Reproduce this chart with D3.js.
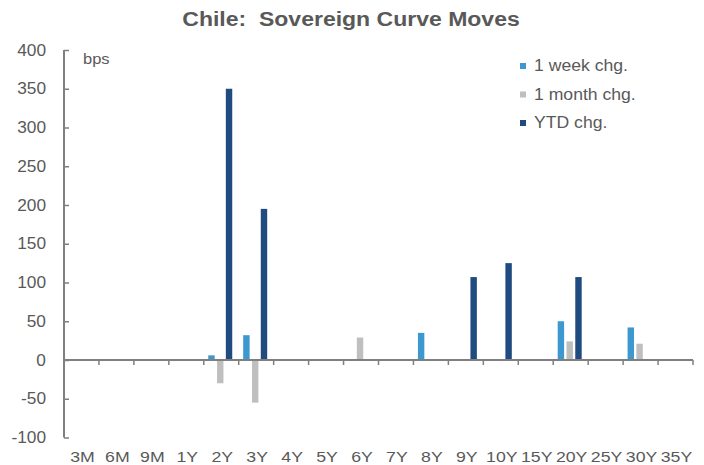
<!DOCTYPE html>
<html>
<head>
<meta charset="utf-8">
<script src="https://cdn.jsdelivr.net/npm/d3@7"></script>
<style>
  html, body { margin: 0; padding: 0; background: #fff; }
  svg { display: block; font-family: "Liberation Sans", Arial, sans-serif; }
</style>
</head>
<body>
<svg id="chart" width="704" height="465"></svg>
<script>
// Tenors along the curve
const categories = ["3M","6M","9M","1Y","2Y","3Y","4Y","5Y","6Y","7Y","8Y","9Y","10Y","15Y","20Y","25Y","30Y","35Y"];
// Changes in basis points (null = no change shown)
const weekChg  = [null,null,null,null,6,32,null,null,null,null,35,null,null,null,50,null,42,null];
const monthChg = [null,null,null,null,-30,-55,null,null,29,null,null,null,null,null,24,null,21,null];
const ytdChg   = [null,null,null,null,350,195,null,null,null,null,null,107,125,null,107,null,null,null];
const yTicks = [-100,-50,0,50,100,150,200,250,300,350,400];

const seriesNames = ["1 week chg.","1 month chg.","YTD chg."];
const seriesValues = [weekChg, monthChg, ytdChg];
const colors = ["#3d98cf", "#bfbfbf", "#1f4b80"];

const svg = d3.select("#chart");
const textColor = "#595959";
const axisColor = "#7f7f7f";

const plotLeft = 64, plotRight = 693, plotTop = 50, plotBottom = 437.5;

const x = d3.scaleBand().domain(categories).range([plotLeft, plotRight]).padding(0);
const xInner = d3.scaleBand().domain(d3.range(3)).range([-12, 12]).paddingInner(0.27);
const y = d3.scaleLinear().domain([-100, 400]).range([plotBottom, plotTop]);

// Widen text horizontally by factor k
function widen(sel, k) {
  sel.each(function () {
    const w = this.getComputedTextLength();
    d3.select(this).attr("textLength", w * k).attr("lengthAdjust", "spacingAndGlyphs");
  });
}

// Title
svg.append("text")
  .attr("x", 351).attr("y", 26)
  .attr("text-anchor", "middle")
  .attr("font-size", 20).attr("font-weight", "bold")
  .attr("fill", textColor)
  .style("white-space", "pre")
  .text("Chile:  Sovereign Curve Moves")
  .call(widen, 1.15);

// Bars
const barData = [];
seriesValues.forEach((vals, s) => {
  vals.forEach((v, i) => {
    if (v !== null) barData.push({ s, cat: categories[i], v });
  });
});
svg.append("g").selectAll("rect").data(barData).join("rect")
  .attr("x", d => x(d.cat) + x.bandwidth() / 2 - 1 + xInner(d.s))
  .attr("width", xInner.bandwidth())
  .attr("y", d => y(Math.max(0, d.v)))
  .attr("height", d => Math.abs(y(d.v) - y(0)))
  .attr("fill", d => colors[d.s]);

// Y axis
const yAxis = d3.axisRight(y).tickValues(yTicks).tickSize(5).tickFormat("");
const gy = svg.append("g").attr("transform", `translate(${plotLeft},0)`).call(yAxis);
gy.select(".domain").remove();
gy.selectAll(".tick line").attr("stroke", axisColor).attr("stroke-width", 1.5);
gy.append("line").attr("x1", 0).attr("x2", 0).attr("y1", plotTop).attr("y2", plotBottom)
  .attr("stroke", axisColor).attr("stroke-width", 2);

svg.append("g").selectAll("text").data(yTicks).join("text")
  .attr("x", 46).attr("y", d => y(d))
  .attr("dy", "0.35em")
  .attr("text-anchor", "end")
  .attr("font-size", 16).attr("fill", textColor)
  .text(d => d)
  .call(widen, 1.08);

// X axis along zero line, ticks at category boundaries
const xEdges = categories.map(c => x(c)).concat([plotRight]);
const gx = svg.append("g");
gx.selectAll("line.tk").data(xEdges).join("line")
  .attr("class", "tk")
  .attr("x1", d => d).attr("x2", d => d)
  .attr("y1", y(0)).attr("y2", y(0) + 5)
  .attr("stroke", axisColor).attr("stroke-width", 1.5);
gx.append("line").attr("x1", plotLeft).attr("x2", plotRight)
  .attr("y1", y(0)).attr("y2", y(0))
  .attr("stroke", axisColor).attr("stroke-width", 2);

svg.append("g").selectAll("text").data(categories).join("text")
  .attr("x", d => x(d) + x.bandwidth() / 2 + 1)
  .attr("y", 462)
  .attr("text-anchor", "middle")
  .attr("font-size", 15).attr("fill", textColor)
  .text(d => d)
  .call(widen, 1.18);

// Unit label
svg.append("text").attr("x", 83).attr("y", 64)
  .attr("font-size", 15).attr("fill", textColor).text("bps")
  .call(widen, 1.1);

// Legend
const lg = svg.append("g");
seriesNames.forEach((name, i) => {
  const yy = 63 + i * 28.5;
  lg.append("rect").attr("x", 520).attr("y", yy).attr("width", 6).attr("height", 6).attr("fill", colors[i]);
  lg.append("text").attr("x", 534).attr("y", yy + 8)
    .attr("font-size", 16).attr("fill", textColor).text(name)
    .call(widen, 1.1);
});
</script>
</body>
</html>
